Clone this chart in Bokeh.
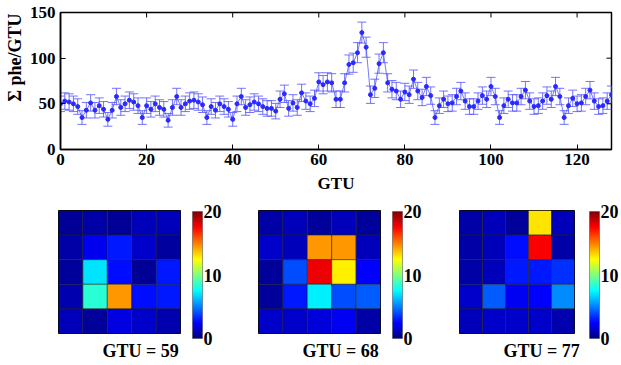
import math
from bokeh.plotting import figure
from bokeh.models import (ColumnDataSource, Whisker, TeeHead, LinearColorMapper,
                          ColorBar, FixedTicker, Title, Range1d)
from bokeh.layouts import column, row
from bokeh.embed import file_html
from bokeh.resources import INLINE

# ---------------- data ----------------
gtu = list(range(129))
phe = [50, 53, 52, 50, 47, 35, 43, 51, 43, 48,
       44, 33, 43, 58, 46, 50, 54, 52, 48, 35,
       48, 44, 50, 46, 44, 32, 46, 58, 46, 50,
       53, 54, 52, 49, 35, 47, 43, 50, 47, 44,
       33, 50, 58, 46, 49, 52, 50, 47, 45, 45,
       42, 55, 61, 45, 51, 46, 62, 53, 50, 56,
       74, 71, 74, 73, 55, 55, 73, 93, 95, 106,
       128, 112, 60, 67, 94, 106, 73, 66, 64, 55,
       63, 60, 77, 64, 57, 69, 59, 35, 48, 55,
       50, 51, 58, 64, 53, 47, 47, 53, 59, 55,
       69, 58, 35, 48, 55, 51, 51, 58, 65, 53,
       47, 48, 53, 59, 55, 69, 58, 35, 48, 56,
       50, 51, 58, 65, 53, 47, 48, 53, 60]
err = [8.5, 9, 9, 8.5, 8.5, 7.5, 8.5, 9, 8.5, 8.5,
       8.5, 7.5, 8.5, 9, 8.5, 8.5, 9, 9, 8.5, 7.5,
       8.5, 8.5, 8.5, 8.5, 8.5, 7.5, 8.5, 9, 8.5, 8.5,
       9, 9, 9, 8.5, 7.5, 8.5, 8.5, 8.5, 8.5, 8.5,
       7.5, 8.5, 9, 8.5, 8.5, 9, 8.5, 8.5, 8.5, 8.5,
       8.5, 9, 9.5, 8.5, 9, 8.5, 9.5, 9, 8.5, 9,
       10, 10, 10, 10, 9, 9, 10, 10.5, 10.5, 11,
       11.5, 11, 9.5, 10, 10.5, 11, 10, 9.5, 9.5, 9,
       9.5, 9.5, 10, 9.5, 9, 10, 9.5, 7.5, 8.5, 9,
       8.5, 9, 9, 9.5, 9, 8.5, 8.5, 9, 9.5, 9,
       10, 9, 7.5, 8.5, 9, 9, 9, 9, 9.5, 9,
       8.5, 8.5, 9, 9.5, 9, 10, 9, 7.5, 8.5, 9,
       8.5, 9, 9, 9.5, 9, 8.5, 8.5, 9, 9.5]
x_ticks = [0, 20, 40, 60, 80, 100, 120]
y_ticks = [0, 50, 100, 150]
x_max = 128
y_max = 150

# 5x5 pixel maps, rows listed top to bottom
frame_titles = ["GTU = 59", "GTU = 68", "GTU = 77"]
map59 = [[0.5, 0.8, 0.5, 1.2, 1.2],
         [0.8, 2.2, 3.0, 1.5, 0.7],
         [0.6, 7.0, 2.8, 0.5, 3.0],
         [1.0, 8.3, 14.5, 2.8, 3.0],
         [1.2, 0.6, 2.0, 1.5, 1.0]]
map68 = [[0.8, 1.2, 0.6, 1.2, 0.6],
         [1.5, 1.2, 14.5, 14.5, 1.2],
         [0.6, 4.0, 17.8, 12.8, 2.5],
         [0.6, 3.0, 7.2, 4.0, 4.3],
         [1.5, 1.5, 1.8, 2.3, 0.8]]
map77 = [[0.8, 1.2, 0.6, 13.0, 1.2],
         [0.8, 1.2, 2.8, 17.5, 0.8],
         [0.8, 1.2, 3.0, 3.0, 3.5],
         [1.5, 4.3, 2.3, 2.5, 5.3],
         [1.2, 1.5, 1.5, 1.5, 1.0]]
cbar_ticks = [0, 10, 20]

FONT = "Liberation Serif"


def jet(n=256):
    cols = []
    for i in range(n):
        t = i / (n - 1)
        r = min(max(1.5 - abs(4 * t - 3), 0), 1)
        g = min(max(1.5 - abs(4 * t - 2), 0), 1)
        b = min(max(1.5 - abs(4 * t - 1), 0), 1)
        cols.append("#%02x%02x%02x" % (int(r * 255), int(g * 255), int(b * 255)))
    return cols


def style_axis(ax, size="17px"):
    ax.major_label_text_font = FONT
    ax.major_label_text_font_style = "bold"
    ax.major_label_text_font_size = size
    ax.major_label_text_color = "black"
    ax.axis_label_text_font = FONT
    ax.axis_label_text_font_style = "bold"
    ax.axis_label_text_color = "black"
    ax.major_tick_in = 5
    ax.major_tick_out = 0
    ax.minor_tick_line_color = None
    ax.axis_line_color = "black"
    ax.axis_line_width = 1.5
    ax.major_tick_line_color = "black"


# ---------------- top light curve ----------------
p = figure(width=621, height=195, x_range=Range1d(0, x_max), y_range=Range1d(0, y_max),
           output_backend="svg", toolbar_location=None,
           min_border_left=58, min_border_right=10, min_border_top=12, min_border_bottom=45)
p.grid.visible = False
p.outline_line_color = "black"
p.outline_line_width = 1.5

src = ColumnDataSource(dict(x=gtu, y=phe,
                            upper=[v + e for v, e in zip(phe, err)],
                            lower=[v - e for v, e in zip(phe, err)]))
p.line("x", "y", source=src, line_color="#5555ff", line_width=1, line_alpha=0.8)
wh = Whisker(source=src, base="x", upper="upper", lower="lower", dimension="height",
             line_color="#5a5aff", line_width=1, line_alpha=0.85,
             upper_head=TeeHead(size=9, line_color="#5a5aff", line_width=1, line_alpha=0.85),
             lower_head=TeeHead(size=9, line_color="#5a5aff", line_width=1, line_alpha=0.85))
p.add_layout(wh)
p.scatter("x", "y", source=src, size=4, fill_color="#2a2aff", line_color="#2a2aff")

# mirrored inward ticks on the top and right edges (clipped to the frame)
p.scatter(x=x_ticks, y=[y_max] * len(x_ticks), marker="dash", angle=math.pi / 2,
          size=10, line_color="black", line_width=1)
p.scatter(x=[x_max] * len(y_ticks), y=y_ticks, marker="dash",
          size=10, line_color="black", line_width=1)

p.xaxis.ticker = FixedTicker(ticks=x_ticks)
p.yaxis.ticker = FixedTicker(ticks=y_ticks)
p.xaxis.axis_label = "GTU"
style_axis(p.xaxis[0])
style_axis(p.yaxis[0])
p.xaxis.axis_label_text_font_size = "17px"
p.xaxis.major_label_standoff = 4
p.yaxis.major_label_standoff = 5
p.xaxis.axis_label_standoff = 6

ylab = Title(text="Σ phe/GTU", align="right", offset=1, text_font=FONT,
             text_font_style="bold", text_font_size="18px", text_color="black", standoff=4)
p.add_layout(ylab, "left")

# ---------------- bottom pixel maps ----------------
mapper = LinearColorMapper(palette=jet(), low=0, high=20)
maps = [map59, map68, map77]
widths = [224, 200, 197]
lefts = [58, 34, 35]
rights = [40, 40, 35]
cb_x = [12, 12, 15]

figs = []
for k in range(3):
    m = maps[k]
    xs, ys, vs = [], [], []
    for r in range(5):
        for c in range(5):
            xs.append(c)
            ys.append(4 - r)
            vs.append(m[r][c])
    hs = ColumnDataSource(dict(x=xs, y=ys, v=vs))
    h = figure(width=widths[k], height=170, x_range=Range1d(-0.5, 4.5), y_range=Range1d(-0.5, 4.5),
               output_backend="svg", toolbar_location=None,
               min_border_left=lefts[k], min_border_right=rights[k],
               min_border_top=15, min_border_bottom=28)
    h.grid.visible = False
    h.axis.visible = False
    h.outline_line_color = "black"
    h.outline_line_width = 1
    h.rect("x", "y", width=1, height=1, source=hs,
           fill_color={"field": "v", "transform": mapper},
           line_color="#222222", line_width=0.8, line_alpha=0.7)
    cb = ColorBar(color_mapper=mapper, ticker=FixedTicker(ticks=cbar_ticks),
                  width=10, height=127, label_standoff=1, location=(cb_x[k], -5),
                  margin=0, padding=0,
                  major_label_text_font=FONT, major_label_text_font_style="bold",
                  major_label_text_font_size="18px", major_label_text_color="black",
                  major_tick_line_color=None, bar_line_color="#444444", bar_line_width=0.5,
                  background_fill_color=None, border_line_color=None)
    h.add_layout(cb, "right")
    t = Title(text=frame_titles[k], align="left", offset=44, text_font=FONT,
              text_font_style="bold", text_font_size="18px", text_color="black")
    h.add_layout(t, "below")
    figs.append(h)

layout = column(p, row(*figs))
open("out.html", "w").write(file_html(layout, INLINE))
